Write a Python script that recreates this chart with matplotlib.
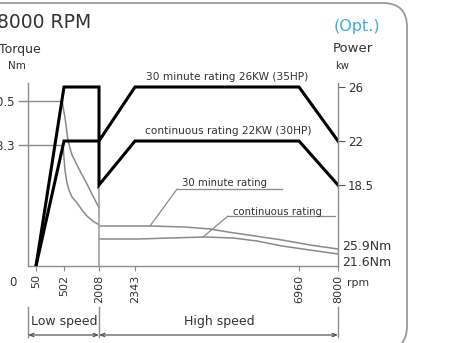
import matplotlib
matplotlib.use("Agg")
import matplotlib.pyplot as plt
import matplotlib.transforms as mtransforms
from matplotlib.patches import FancyBboxPatch
import numpy as np

# spindle speed (rpm) - axis is schematic, not to scale
rpm_ticks = [50, 502, 2008, 2343, 6960, 8000]
rpm_labels = ["50", "502", "2008", "2343", "6960", "8000"]

# power (kW) - black lines
rpm_power = [50, 502, 2008, 2008, 2343, 6960, 8000]
power_30min = [0, 26, 26, 22, 26, 26, 22]
power_cont = [0, 22, 22, 18.5, 22, 22, 18.5]
power_ticks = [26, 22, 18.5]
power_labels = ["26", "22", "18.5"]

# torque (Nm) - grey curves
rpm_t30_low = [470, 486, 502, 545, 588, 631, 674, 760, 846, 975, 1104, 1233, 1406, 1621, 1836, 2008]
torque_30_low = [490.5, 482, 472, 463, 451, 438, 426, 407, 381, 358, 335, 313, 286, 248, 211, 181]
rpm_tc_low = [486, 502, 545, 588, 631, 717, 846, 1061, 1276, 1492, 1750, 2008]
torque_cont_low = [418.3, 369, 324, 298, 275, 248, 222, 200, 173, 150, 131, 117]
rpm_t30_high = [2008, 2765, 3750, 4454, 4961, 5721, 6481, 7253, 8000]
torque_30_high = [112.7, 112.7, 108.9, 101.4, 90.0, 75.0, 59.9, 41.0, 25.9]
rpm_tc_high = [2008, 2427, 3328, 4314, 5104, 5777, 6481, 7253, 8000]
torque_cont_high = [63.6, 63.6, 67.4, 71.2, 67.4, 56.1, 37.2, 25.0, 21.6]
torque_ticks = [490.5, 418.3]
torque_labels = ["490.5", "418.3"]

# schematic (broken) scales: value -> position on the sheet
x_knots, x_pos = [0, 50, 502, 2008, 2343, 6960, 8000], [0, 8, 36, 71, 107, 271, 310]
t_knots, t_pos = [0, 21.6, 25.9, 418.3, 490.5, 520], [0, 12, 17, 121, 165, 183]
p_knots, p_pos = [0, 18.5, 22, 26, 26.3], [0, 81, 125, 179, 183]


def piecewise(vals, pos):
    return (lambda v: np.interp(v, vals, pos), lambda p: np.interp(p, pos, vals))


TXT = "#333333"
AXC = "#8c8c8c"
GREY = "#8a8a8a"

plt.rcParams["font.family"] = "DejaVu Sans"
fig = plt.figure(figsize=(4.66, 3.43), dpi=100)
W, H = 466, 343

ax = fig.add_axes([28 / W, 77 / H, 310 / W, 183 / H])
ax.set_xscale("function", functions=piecewise(x_knots, x_pos))
ax.set_yscale("function", functions=piecewise(t_knots, t_pos))
ax.set_xlim(0, 8000)
ax.set_ylim(0, 520)

axp = ax.twinx()
axp.set_yscale("function", functions=piecewise(p_knots, p_pos))
axp.set_ylim(0, 26.3)

for a in (ax, axp):
    for s in a.spines.values():
        s.set_visible(False)
ax.spines["left"].set_visible(True)
ax.spines["bottom"].set_visible(True)
axp.spines["right"].set_visible(True)
for s in (ax.spines["left"], ax.spines["bottom"], axp.spines["right"]):
    s.set_color(AXC)
    s.set_linewidth(1)

# torque curves
ax.plot([0, rpm_t30_low[0]], [torque_ticks[0]] * 2, color=GREY, lw=1)
ax.plot([0, rpm_tc_low[0]], [torque_ticks[1]] * 2, color=GREY, lw=1)
ax.plot(rpm_t30_low, torque_30_low, color=GREY, lw=1.1)
ax.plot(rpm_tc_low, torque_cont_low, color=GREY, lw=1.1)
ax.plot(rpm_t30_high, torque_30_high, color=GREY, lw=1.1)
ax.plot(rpm_tc_high, torque_cont_high, color=GREY, lw=1.1)

# power lines
axp.plot([2008, 2008], [0, 18.5], color="#a0a0a0", lw=1.2)
axp.plot(rpm_power, power_30min, color="black", lw=2.2, solid_joinstyle="miter")
axp.plot(rpm_power, power_cont, color="black", lw=2.2, solid_joinstyle="miter")

# ticks
ax.set_xticks(rpm_ticks)
ax.set_xticklabels(rpm_labels, rotation=90, va="top")
ax.tick_params(axis="x", direction="out", length=3.6, pad=2.5, color=AXC,
               labelsize=8, labelcolor=TXT)
ax.set_yticks(torque_ticks)
ax.set_yticklabels(torque_labels)
ax.tick_params(axis="y", direction="out", length=7.2, width=1, pad=2, color=GREY,
               labelsize=8.5, labelcolor=TXT)
axp.set_yticks(power_ticks)
axp.set_yticklabels(power_labels)
axp.tick_params(axis="y", direction="out", length=5, pad=2, color="#555555",
                labelsize=8.5, labelcolor=TXT)
ax.minorticks_off()
axp.minorticks_off()

# rating labels
ax.text(0.642, 1.033, "30 minute rating 26KW (35HP)", transform=ax.transAxes,
        ha="center", va="center", fontsize=7.6, color=TXT)
ax.text(0.645, 0.738, "continuous rating 22KW (30HP)", transform=ax.transAxes,
        ha="center", va="center", fontsize=7.6, color=TXT)

ax.text(0.635, 0.454, "30 minute rating", transform=ax.transAxes,
        ha="center", va="center", fontsize=7.3, color=TXT)
ax.plot([0.481, 0.819], [0.421, 0.421], transform=ax.transAxes, color=GREY, lw=0.9, clip_on=False)
ax.annotate("", xy=(2765, 112.5), xytext=(0.481, 0.421), textcoords="axes fraction",
            arrowprops=dict(arrowstyle="-", color=GREY, lw=0.9, shrinkA=0, shrinkB=0))

ax.text(0.806, 0.295, "continuous rating", transform=ax.transAxes,
        ha="center", va="center", fontsize=7.3, color=TXT)
ax.plot([0.645, 0.990], [0.273, 0.273], transform=ax.transAxes, color=GREY, lw=0.9, clip_on=False)
ax.annotate("", xy=(4257, 71), xytext=(0.645, 0.273), textcoords="axes fraction",
            arrowprops=dict(arrowstyle="-", color=GREY, lw=0.9, shrinkA=0, shrinkB=0))

# speed ranges below the axis
xt = ax.get_xaxis_transform()
for r in (0, 2008, 8000):
    ax.plot([r, r], [-0.224, -0.388], transform=xt, color=AXC, lw=1, clip_on=False)
for r0, r1 in ((0, 2008), (2008, 8000)):
    ax.annotate("", xy=(r0, -0.377), xytext=(r1, -0.377), xycoords=xt, textcoords=xt,
                arrowprops=dict(arrowstyle="<->,head_length=0.3,head_width=0.12",
                                color="#555555", lw=0.9, shrinkA=0, shrinkB=0))
ax.text(0.116, -0.306, "Low speed", transform=ax.transAxes, ha="center", va="center",
        fontsize=9, color=TXT)
ax.text(0.616, -0.306, "High speed", transform=ax.transAxes, ha="center", va="center",
        fontsize=9, color=TXT)

# sheet texts
def fx(x):
    return x / W


def fy(y):
    return 1 - y / H


fig.text(fx(-3), fy(22), "8000 RPM", fontsize=13.5, color=TXT, va="center")
fig.text(fx(-1), fy(49), "Torque", fontsize=9, color=TXT, va="center")
fig.text(fx(17), fy(66), "Nm", fontsize=7.5, color=TXT, ha="center", va="center")
fig.text(fx(357), fy(27), "(Opt.)", fontsize=11.5, color="#3fa9e6", ha="center", va="center")
fig.text(fx(353), fy(49), "Power", fontsize=9.5, color=TXT, ha="center", va="center")
fig.text(fx(342), fy(66), "kw", fontsize=7.2, color=TXT, ha="center", va="center")
fig.text(fx(13), fy(282), "0", fontsize=8.5, color=TXT, ha="center", va="center")
fig.text(fx(347), fy(283), "rpm", fontsize=7.8, color=TXT, va="center")
fig.text(fx(342), fy(247), "25.9Nm", fontsize=9, color=TXT, va="center")
fig.text(fx(342), fy(263), "21.6Nm", fontsize=9, color=TXT, va="center")

# rounded frame
frame = FancyBboxPatch((-30, -7), 437, 347, boxstyle="round,pad=0,rounding_size=24",
                       transform=mtransforms.IdentityTransform(), fill=False,
                       edgecolor="#9a9a9a", lw=1.3)
fig.add_artist(frame)

fig.savefig("out.png", dpi=100)
